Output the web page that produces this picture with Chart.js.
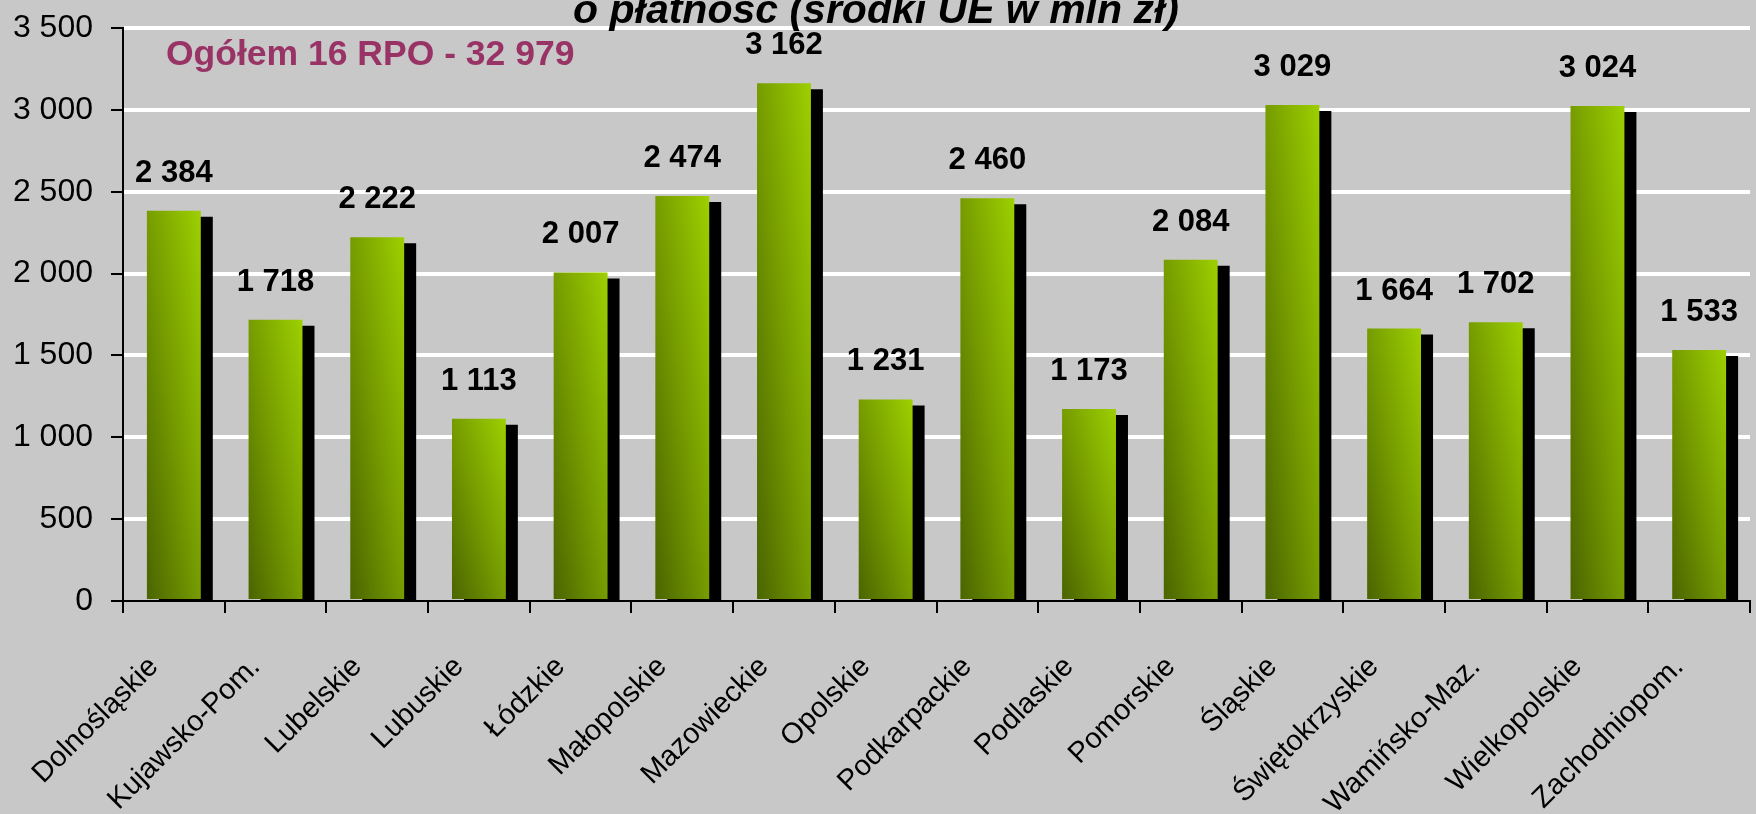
<!DOCTYPE html>
<html>
<head>
<meta charset="utf-8">
<script src="https://cdn.jsdelivr.net/npm/chart.js@4.4.0/dist/chart.umd.min.js"></script>
<style>
html,body{margin:0;padding:0;background:#c8c8c8;overflow:hidden}
canvas{display:block}
</style>
</head>
<body>
<canvas id="c" width="1756" height="814"></canvas>
<script>
// ---- data ----
const categories = ['Dolnośląskie','Kujawsko-Pom.','Lubelskie','Lubuskie','Łódzkie','Małopolskie','Mazowieckie','Opolskie','Podkarpackie','Podlaskie','Pomorskie','Śląskie','Świętokrzyskie','Wamińsko-Maz.','Wielkopolskie','Zachodniopom.'];
const values = [2384,1718,2222,1113,2007,2474,3162,1231,2460,1173,2084,3029,1664,1702,3024,1533];
const yTickValues = [0,500,1000,1500,2000,2500,3000,3500];
const titleText = 'o płatność (środki UE w mln zł)';
const noteText = 'Ogółem 16 RPO - 32 979';

const FONT = '"Liberation Sans", Arial, sans-serif';
const fmt = v => String(v).replace(/\B(?=(\d{3})+(?!\d))/g, ' ');

function barGradient(c) {
  const chart = c.chart;
  const area = chart.chartArea;
  if (!area || !chart.scales.x || !chart.scales.y) return '#7a9e00';
  const xs = chart.scales.x, ys = chart.scales.y;
  const catW = (xs.right - xs.left) / categories.length;
  const w = catW * 0.53;
  const xc = xs.getPixelForValue(c.dataIndex);
  const left = xc - w / 2;
  const bottom = ys.getPixelForValue(0);
  const top = ys.getPixelForValue(values[c.dataIndex]);
  const h = Math.max(1, bottom - top);
  const a = 0.5 / w, b = 0.5 / h;
  const d = a * a + b * b;
  const g = chart.ctx.createLinearGradient(left, bottom, left + a / d, bottom - b / d);
  g.addColorStop(0, '#4a6400');
  g.addColorStop(0.5, '#769c00');
  g.addColorStop(1, '#9dd000');
  return g;
}

const decorPlugin = {
  id: 'decor',
  beforeDraw(chart) {
    const ctx = chart.ctx;
    ctx.save();
    ctx.fillStyle = '#c8c8c8';
    ctx.fillRect(0, 0, chart.width, chart.height);
    ctx.restore();
  },
  beforeDatasetsDraw(chart) {
    const ctx = chart.ctx;
    ctx.save();
    ctx.shadowColor = '#000';
    ctx.shadowOffsetX = 12;
    ctx.shadowOffsetY = 6;
    ctx.shadowBlur = 0;
  },
  afterDatasetsDraw(chart) {
    const ctx = chart.ctx;
    ctx.restore();
    const meta = chart.getDatasetMeta(0);
    ctx.save();
    ctx.fillStyle = '#000';
    ctx.font = 'bold 31px ' + FONT;
    ctx.textAlign = 'center';
    ctx.textBaseline = 'alphabetic';
    meta.data.forEach((bar, i) => {
      ctx.fillText(fmt(values[i]), bar.x, bar.y - 29);
    });
    ctx.restore();
  },
  afterDraw(chart) {
    const ctx = chart.ctx;
    ctx.save();
    ctx.fillStyle = '#000';
    ctx.font = 'italic bold 41px ' + FONT;
    ctx.textAlign = 'center';
    ctx.textBaseline = 'alphabetic';
    ctx.fillText(titleText, chart.width / 2 - 2, 23);
    ctx.fillStyle = '#993366';
    ctx.font = 'bold 35.5px ' + FONT;
    ctx.textAlign = 'left';
    ctx.textBaseline = 'middle';
    ctx.fillText(noteText, 166, 55);
    ctx.restore();
  }
};

new Chart(document.getElementById('c'), {
  type: 'bar',
  data: {
    labels: categories,
    datasets: [{
      data: values,
      backgroundColor: barGradient,
      borderWidth: 0,
      categoryPercentage: 1,
      barPercentage: 0.53,
      clip: 0
    }]
  },
  options: {
    responsive: false,
    animation: false,
    devicePixelRatio: 1,
    layout: { padding: { top: 28, right: 6, left: 0, bottom: 0 } },
    plugins: { legend: { display: false }, title: { display: false }, tooltip: { enabled: false } },
    scales: {
      x: {
        z: 1,
        grid: { offset: true, drawOnChartArea: false, color: '#000', lineWidth: 2, tickLength: 12 },
        border: { color: '#000', width: 2 },
        ticks: {
          autoSkip: false, minRotation: 45, maxRotation: 45,
          padding: 37, labelOffset: -20,
          color: '#000', font: { family: FONT, size: 29 }
        },
        afterFit: s => { s.height = 814 - 601; s.paddingLeft = 0; s.paddingRight = 0; }
      },
      y: {
        min: 0, max: 3500,
        grid: {
          color: c => (c.tick && c.tick.value === 0) ? 'rgba(0,0,0,0)' : '#ffffff',
          lineWidth: 4, tickColor: '#000', tickWidth: 2, tickLength: 12, drawTicks: true
        },
        border: { color: '#000', width: 2 },
        ticks: {
          padding: 18, color: '#000', font: { family: FONT, size: 32 },
          callback: v => fmt(v)
        },
        afterBuildTicks: s => { s.ticks = yTickValues.map(v => ({ value: v })); },
        afterFit: s => { s.width = 123; s.paddingTop = 0; s.paddingBottom = 0; }
      }
    }
  },
  plugins: [decorPlugin]
});
</script>
</body>
</html>
